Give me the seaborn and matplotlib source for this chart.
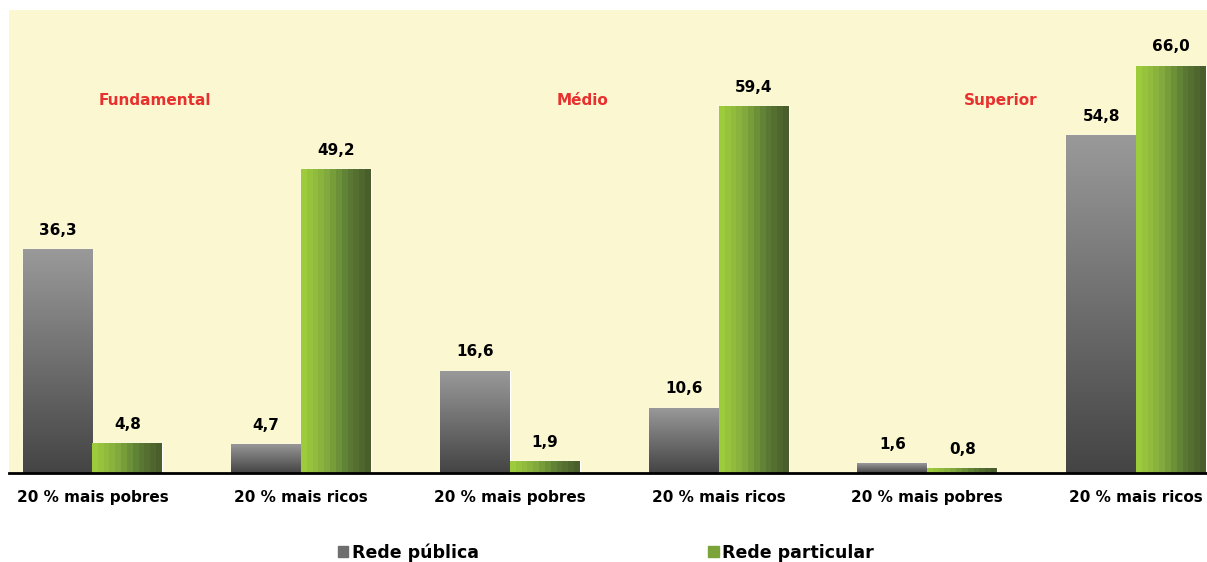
import numpy as np
import pandas as pd
import seaborn as sns
from matplotlib import pyplot as plt
from matplotlib.colors import LinearSegmentedColormap
from matplotlib.patches import Patch

#%% data
groups = ["20 % mais pobres", "20 % mais ricos"] * 3
levels = ["Fundamental", "Médio", "Superior"]
publica = [36.3, 4.7, 16.6, 10.6, 1.6, 54.8]
particular = [4.8, 49.2, 1.9, 59.4, 0.8, 66.0]
series = ["Rede pública", "Rede particular"]

df = pd.DataFrame({
    "pos": list(range(6)) * 2,
    "serie": [series[0]] * 6 + [series[1]] * 6,
    "valor": publica + particular,
})

#%% plot
sns.set_style("white")
plt.rcParams["font.family"] = ["DejaVu Sans"]
plt.rcParams["text.color"] = "black"
plt.rcParams["xtick.color"] = "black"

fig = plt.figure(figsize=(12.07, 5.62), dpi=100)
ax = fig.add_axes([9 / 1207, 89 / 562, 1 - 9 / 1207, 463 / 562])
ax.set_facecolor("#FBF7D0")

sns.barplot(data=df, x="pos", y="valor", hue="serie", hue_order=series,
            palette=["#707070", "#7AA33A"], width=0.67, ax=ax, legend=False,
            saturation=1)

gray = LinearSegmentedColormap.from_list("g", ["#444444", "#9A9A9A"])
green = LinearSegmentedColormap.from_list("v", ["#9CCB3B", "#86AE3E", "#5E7F35", "#4A5E2C"])
grad_v = np.linspace(0, 1, 256).reshape(-1, 1)
grad_h = np.linspace(0, 1, 12).reshape(1, -1)

for cont, cmap, grad in zip(ax.containers, [gray, green], [grad_v, grad_h]):
    for p in cont:
        x0, w, h = p.get_x(), p.get_width(), p.get_height()
        im = ax.imshow(grad, cmap=cmap, aspect="auto", origin="lower",
                       extent=[x0, x0 + w, 0, h], interpolation="nearest", zorder=2)
        im.set_clip_path(p)
    ax.bar_label(cont, labels=[f"{v:.1f}".replace(".", ",") for v in cont.datavalues],
                 padding=8, fontsize=11, fontweight="bold", color="black")

ax.set_xlim(-0.4, 5.34)
ax.set_ylim(0, 75)
ax.set_yticks([])
ax.set_xticks(range(6))
ax.set_xticklabels(groups, fontsize=11, fontweight="bold")
ax.tick_params(axis="x", length=0, pad=12, labelcolor="black")
ax.set_xlabel("")
ax.set_ylabel("")
for s in ["top", "left", "right"]:
    ax.spines[s].set_visible(False)
ax.spines["bottom"].set_linewidth(2)
ax.spines["bottom"].set_color("black")

for i, lv in enumerate(levels):
    ax.text([0.3, 2.35, 4.35][i], 60.4, lv, color="#E8302E", fontsize=11,
            fontweight="bold", ha="center", va="center")

handles = [Patch(color="#6E6E6E"), Patch(color="#7AA33A")]
fig.legend(handles, series, loc="center", bbox_to_anchor=(0.502, 0.017), ncol=2,
           frameon=False, prop={"weight": "bold", "size": 12.5},
           handlelength=0.6, handleheight=0.6, handletextpad=0.2, columnspacing=13.2)

fig.savefig("out.png", dpi=100)
